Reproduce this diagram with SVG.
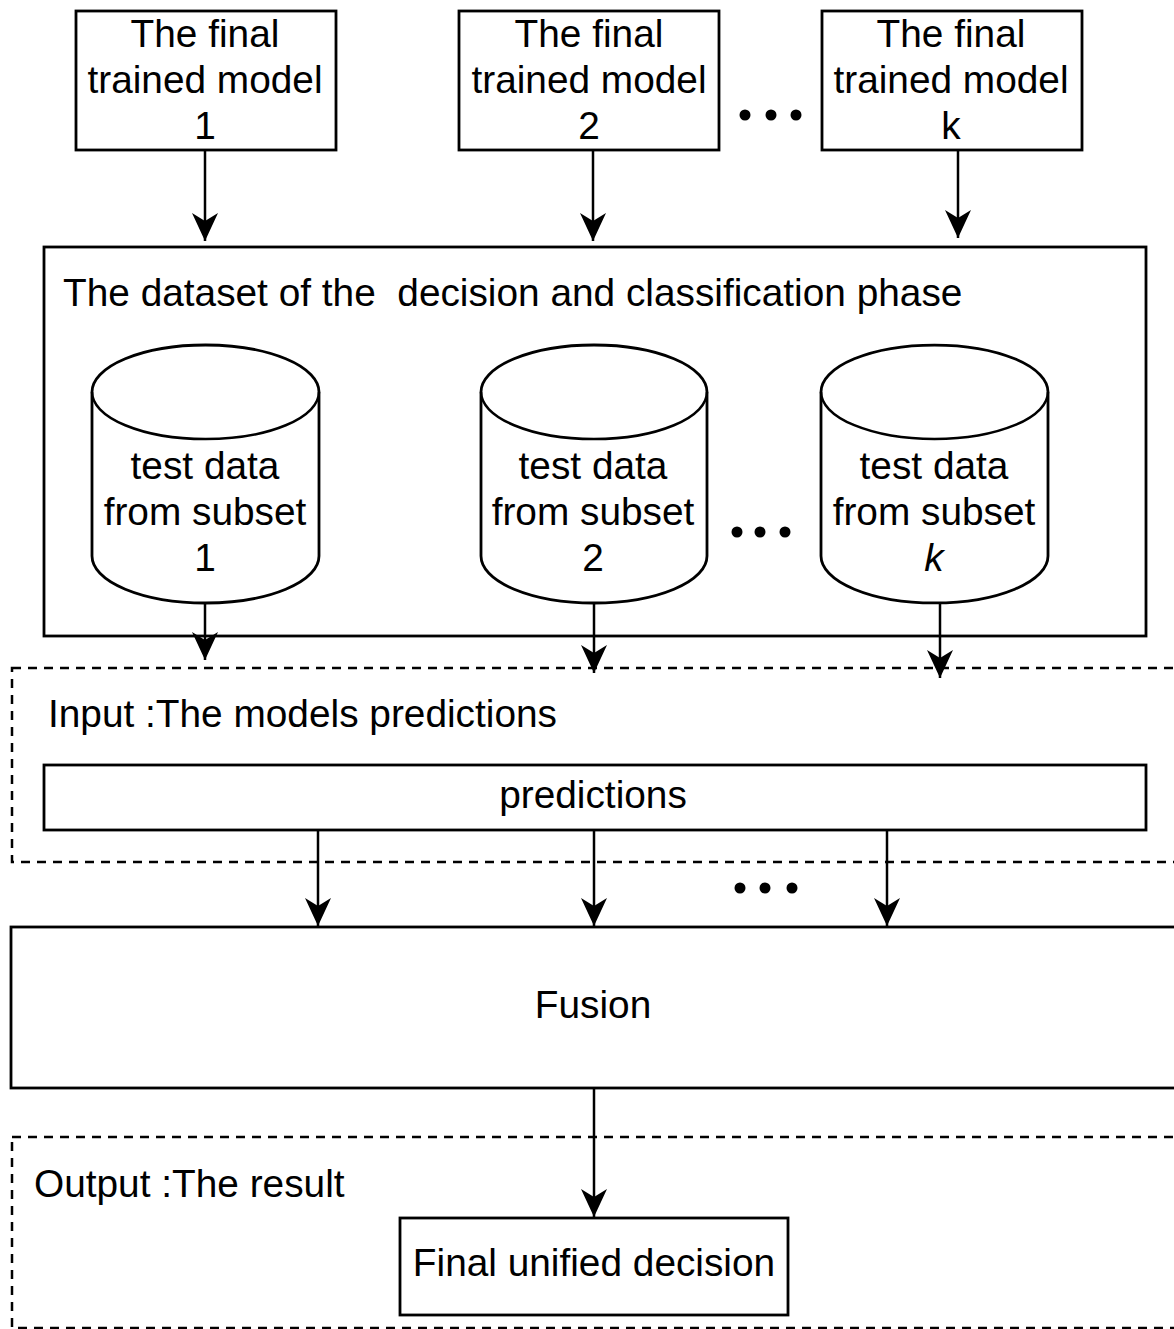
<svg xmlns="http://www.w3.org/2000/svg" width="1174" height="1329" viewBox="0 0 1174 1329">
<style>
.box{fill:#fff;stroke:#000;stroke-width:2.8}
.dash{fill:none;stroke:#000;stroke-width:2.5;stroke-dasharray:9 7}
.t{font-family:"Liberation Sans",Arial,sans-serif;font-size:38.8px;fill:#000;white-space:pre}
.c{text-anchor:middle}
.edge{fill:none;stroke:#000;stroke-width:2.5}
.dot{fill:#000}
</style>
<defs>
<marker id="arr" markerUnits="userSpaceOnUse" markerWidth="30" markerHeight="28" refX="28" refY="13" orient="auto" viewBox="0 0 30 28">
<path d="M0,0 L28,13 L0,26 L8,13 Z" fill="#000"/>
</marker>
</defs>
<rect width="1174" height="1329" fill="#fff"/>

<g id="input-group">
<rect class="dash" x="12" y="668" width="1200" height="194"/>
<text class="t" x="48" y="727">Input :The models predictions</text>
</g>
<g id="output-group">
<rect class="dash" x="12" y="1137" width="1200" height="191"/>
<text class="t" x="34" y="1197">Output :The result</text>
</g>

<g id="model1">
<rect class="box" x="76" y="11" width="260" height="139"/>
<text class="t c" x="205" y="47">The final</text>
<text class="t c" x="205" y="93">trained model</text>
<text class="t c" x="205" y="139">1</text>
</g>
<g id="model2">
<rect class="box" x="459" y="11" width="260" height="139"/>
<text class="t c" x="589" y="47">The final</text>
<text class="t c" x="589" y="93">trained model</text>
<text class="t c" x="589" y="139">2</text>
</g>
<g id="modelk">
<rect class="box" x="822" y="11" width="260" height="139"/>
<text class="t c" x="951" y="47">The final</text>
<text class="t c" x="951" y="93">trained model</text>
<text class="t c" x="951" y="139">k</text>
</g>
<g id="dots-top">
<circle class="dot" cx="745" cy="115" r="5.5"/>
<circle class="dot" cx="771" cy="115" r="5.5"/>
<circle class="dot" cx="796" cy="115" r="5.5"/>
</g>

<g id="dataset">
<rect class="box" x="44" y="247" width="1102" height="389"/>
<text class="t" x="63" y="306" xml:space="preserve">The dataset of the  decision and classification phase</text>
</g>

<g id="cyl1">
<path class="box" d="M92,392 A113.5,47 0 0 1 319,392 L319,556 A113.5,47 0 0 1 92,556 Z"/>
<path class="edge" d="M92,392 A113.5,47 0 0 0 319,392"/>
<text class="t c" x="205" y="479">test data</text>
<text class="t c" x="205" y="525">from subset</text>
<text class="t c" x="205" y="571">1</text>
</g>
<g id="cyl2">
<path class="box" d="M481,392 A113,47 0 0 1 707,392 L707,556 A113,47 0 0 1 481,556 Z"/>
<path class="edge" d="M481,392 A113,47 0 0 0 707,392"/>
<text class="t c" x="593" y="479">test data</text>
<text class="t c" x="593" y="525">from subset</text>
<text class="t c" x="593" y="571">2</text>
</g>
<g id="cylk">
<path class="box" d="M821,392 A113.5,47 0 0 1 1048,392 L1048,556 A113.5,47 0 0 1 821,556 Z"/>
<path class="edge" d="M821,392 A113.5,47 0 0 0 1048,392"/>
<text class="t c" x="934" y="479">test data</text>
<text class="t c" x="934" y="525">from subset</text>
<text class="t c" x="934" y="571" font-style="italic">k</text>
</g>
<g id="dots-mid">
<circle class="dot" cx="737" cy="532" r="5.5"/>
<circle class="dot" cx="760" cy="532" r="5.5"/>
<circle class="dot" cx="785" cy="532" r="5.5"/>
</g>

<g id="predictions">
<rect class="box" x="44" y="765" width="1102" height="65"/>
<text class="t c" x="593" y="808">predictions</text>
</g>
<g id="dots-bottom">
<circle class="dot" cx="740" cy="888" r="5.5"/>
<circle class="dot" cx="765" cy="888" r="5.5"/>
<circle class="dot" cx="792" cy="888" r="5.5"/>
</g>

<g id="fusion">
<rect class="box" x="11" y="927" width="1200" height="161"/>
<text class="t c" x="593" y="1018">Fusion</text>
</g>

<g id="final">
<rect class="box" x="400" y="1218" width="388" height="97"/>
<text class="t c" x="594" y="1276">Final unified decision</text>
</g>

<g id="connectors">
<line class="edge" x1="205" y1="150" x2="205" y2="241" marker-end="url(#arr)"/>
<line class="edge" x1="593" y1="150" x2="593" y2="241" marker-end="url(#arr)"/>
<line class="edge" x1="958" y1="150" x2="958" y2="238" marker-end="url(#arr)"/>
<line class="edge" x1="205" y1="603" x2="205" y2="660" marker-end="url(#arr)"/>
<line class="edge" x1="594" y1="603" x2="594" y2="673" marker-end="url(#arr)"/>
<line class="edge" x1="940" y1="603" x2="940" y2="678" marker-end="url(#arr)"/>
<line class="edge" x1="318" y1="830" x2="318" y2="926" marker-end="url(#arr)"/>
<line class="edge" x1="594" y1="830" x2="594" y2="926" marker-end="url(#arr)"/>
<line class="edge" x1="887" y1="830" x2="887" y2="926" marker-end="url(#arr)"/>
<line class="edge" x1="594" y1="1088" x2="594" y2="1217" marker-end="url(#arr)"/>
</g>
</svg>
